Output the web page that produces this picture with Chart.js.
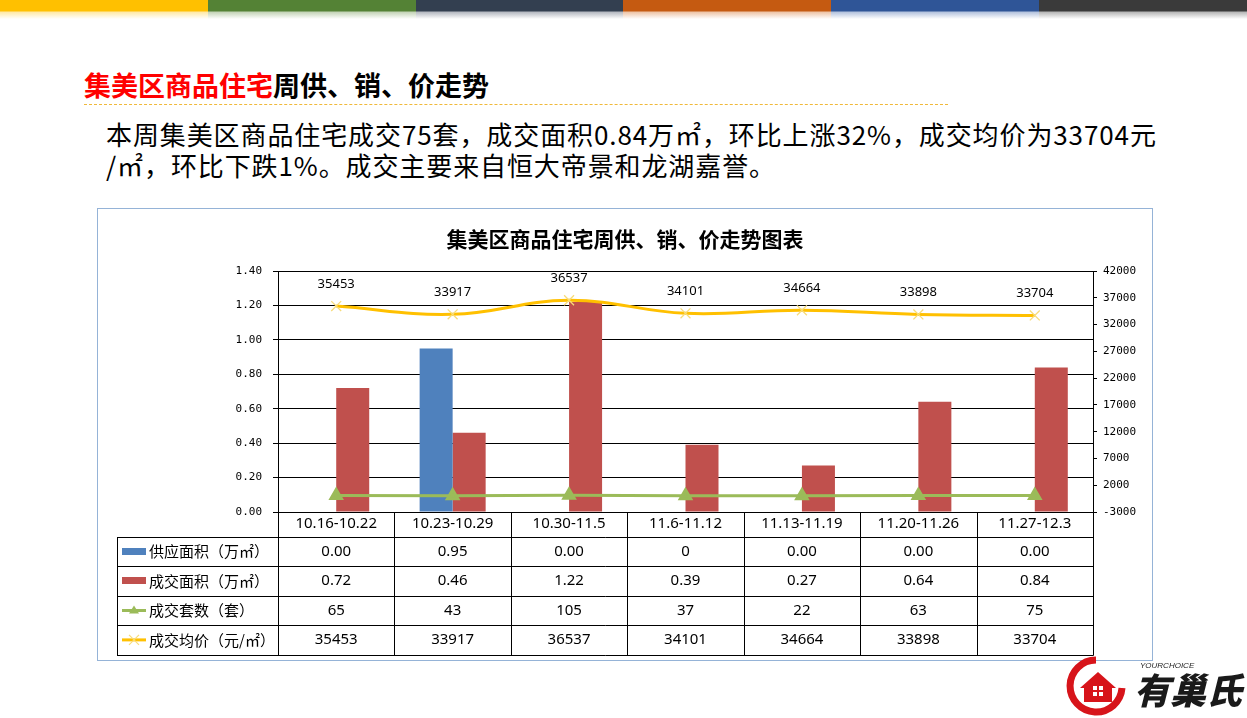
<!DOCTYPE html>
<html>
<head>
<meta charset="utf-8">
<script src="https://cdn.jsdelivr.net/npm/chart.js@4.4.1/dist/chart.umd.min.js"></script>
<style>
html,body{margin:0;padding:0;background:#fff;width:1247px;height:718px;overflow:hidden;font-family:"Noto Sans CJK SC","Noto Sans",sans-serif;}
#topbar{position:absolute;left:0;top:0;width:1247px;height:19px;display:flex;}
#topbar div{flex:1;height:19px;}
#heading{position:absolute;left:84px;top:66px;font-size:27px;font-weight:700;line-height:38px;white-space:nowrap;color:#000;}
#heading .r{color:#ff0000;}
#dash{position:absolute;left:84px;top:104px;width:864px;height:0;border-top:1px dashed #F0B93A;}
#para{position:absolute;left:106px;top:118px;font-size:26px;letter-spacing:0.9px;line-height:31px;color:#000;white-space:nowrap;}
#box{position:absolute;left:97px;top:208px;width:1054px;height:451px;border:1px solid #95B3D7;}
#ctitle{position:absolute;left:97px;top:224px;width:1056px;text-align:center;font-size:21px;font-weight:700;line-height:28px;color:#000;}
#chart{position:absolute;left:97px;top:208px;}
#logo{position:absolute;left:1060px;top:652px;}
</style>
</head>
<body>
<div id="topbar">
  <div style="background:linear-gradient(#FFC000 0,#FFC000 11px,#FFE9A6 12px,#ffffff 19px)"></div>
  <div style="background:linear-gradient(#548235 0,#548235 11px,#C3D3B6 12px,#ffffff 19px)"></div>
  <div style="background:linear-gradient(#333F50 0,#333F50 11px,#B4B8C0 12px,#ffffff 19px)"></div>
  <div style="background:linear-gradient(#C55A11 0,#C55A11 11px,#EDC3A6 12px,#ffffff 19px)"></div>
  <div style="background:linear-gradient(#2F5597 0,#2F5597 11px,#B3C2DD 12px,#ffffff 19px)"></div>
  <div style="background:linear-gradient(#3A3A3A 0,#3A3A3A 11px,#B5B5B5 12px,#ffffff 19px)"></div>
</div>
<div id="heading"><span class="r">集美区商品住宅</span>周供、销、价走势</div>
<div id="dash"></div>
<div id="para">本周集美区商品住宅成交75套，成交面积0.84万㎡，环比上涨32%，成交均价为33704元<br>/㎡，环比下跌1%。成交主要来自恒大帝景和龙湖嘉誉。</div>
<div id="box"></div>
<canvas id="chart" width="1056" height="453"></canvas>
<div id="ctitle">集美区商品住宅周供、销、价走势图表</div>
<svg id="logo" width="187" height="64" viewBox="0 0 187 64">
  <path d="M36 8 A26 26 0 1 0 62 36" fill="none" stroke="#D7141A" stroke-width="7"/>
  <path d="M20 36 L38 20 L56 36 L52 36 L52 50 L24 50 L24 36 Z" fill="#D7141A"/>
  <rect x="33" y="34" width="4" height="4" fill="#fff"/><rect x="39" y="34" width="4" height="4" fill="#fff"/>
  <rect x="33" y="40" width="4" height="4" fill="#fff"/><rect x="39" y="40" width="4" height="4" fill="#fff"/>
  <text x="80" y="16" font-family="Liberation Sans" font-style="italic" font-size="8" fill="#222">YOURCHOICE</text>
  <text x="74" y="52" font-family="Noto Sans CJK SC" font-weight="900" font-style="italic" font-size="36" fill="#1a1a1a">有巢氏</text>
</svg>
<script>
const categories = ["10.16-10.22","10.23-10.29","10.30-11.5","11.6-11.12","11.13-11.19","11.20-11.26","11.27-12.3"];
const supplyArea = [0.00, 0.95, 0.00, 0, 0.00, 0.00, 0.00];
const supplyText = ["0.00","0.95","0.00","0","0.00","0.00","0.00"];
const dealArea   = [0.72, 0.46, 1.22, 0.39, 0.27, 0.64, 0.84];
const dealUnits  = [65, 43, 105, 37, 22, 63, 75];
const avgPrice   = [35453, 33917, 36537, 34101, 34664, 33898, 33704];
const seriesNames = ["供应面积（万㎡）","成交面积（万㎡）","成交套数（套）","成交均价（元/㎡）"];
const leftAxis  = {min: 0, max: 1.4, step: 0.2};
const rightAxis = {min: -3000, max: 42000, step: 5000};

const BLUE = '#4F81BD', RED = '#C0504D', GREEN = '#9BBB59', YELLOW = '#FFC000';
const NUMFONT = '"Noto Sans","Noto Sans CJK SC",sans-serif';

const labelPlugin = {
  id: 'priceLabels',
  afterDatasetsDraw(chart) {
    const ctx = chart.ctx;
    const meta = chart.getDatasetMeta(3);
    ctx.save();
    ctx.font = '13px ' + NUMFONT;
    ctx.fillStyle = '#000';
    ctx.textAlign = 'center';
    ctx.textBaseline = 'middle';
    meta.data.forEach((pt, i) => {
      ctx.fillText(String(avgPrice[i]), pt.x, pt.y - 22);
    });
    ctx.restore();
  }
};

const tablePlugin = {
  id: 'dataTable',
  afterDraw(chart) {
    const ctx = chart.ctx, a = chart.chartArea, xs = chart.scales.x;
    const step = xs.getPixelForValue(1) - xs.getPixelForValue(0);
    const top = Math.round(a.bottom);
    const hdrH = 25, rowH = 29.4;
    const labelLeft = Math.round(a.left) - 161;
    const bottom = Math.round(top + hdrH + rowH * 4);
    const rows = [
      supplyText,
      dealArea.map(v => v.toFixed(2)),
      dealUnits.map(String),
      avgPrice.map(String)
    ];
    ctx.save();
    ctx.strokeStyle = '#000';
    ctx.lineWidth = 1;
    ctx.beginPath();
    for (let r = 0; r <= 4; r++) {
      const y = Math.round(top + hdrH + r * rowH) + 0.5;
      ctx.moveTo(labelLeft, y); ctx.lineTo(Math.round(a.right) + 0.5, y);
    }
    for (let k = 0; k <= categories.length; k++) {
      const x = Math.round(xs.getPixelForValue(0) - step / 2 + k * step) + 0.5;
      ctx.moveTo(x, top); ctx.lineTo(x, bottom + 0.5);
    }
    ctx.moveTo(labelLeft + 0.5, Math.round(top + hdrH) + 0.5);
    ctx.lineTo(labelLeft + 0.5, bottom + 0.5);
    ctx.stroke();

    ctx.textBaseline = 'middle';
    for (let r = 0; r < 4; r++) {
      const cy = top + hdrH + r * rowH + rowH / 2;
      // values
      ctx.font = '15px ' + NUMFONT;
      ctx.fillStyle = '#000';
      ctx.textAlign = 'center';
      rows[r].forEach((t, i) => ctx.fillText(t, xs.getPixelForValue(i), cy));
      // legend key
      const kx = labelLeft + 5, kw = 24;
      if (r < 2) {
        ctx.fillStyle = r === 0 ? BLUE : RED;
        ctx.fillRect(kx, Math.round(cy) - 4, kw, 7);
      } else if (r === 2) {
        ctx.strokeStyle = GREEN; ctx.lineWidth = 3;
        ctx.beginPath(); ctx.moveTo(kx, cy); ctx.lineTo(kx + kw, cy); ctx.stroke();
        ctx.fillStyle = GREEN;
        ctx.beginPath(); ctx.moveTo(kx + kw/2, cy - 5); ctx.lineTo(kx + kw/2 + 5, cy + 3); ctx.lineTo(kx + kw/2 - 5, cy + 3); ctx.closePath(); ctx.fill();
      } else {
        ctx.strokeStyle = YELLOW; ctx.lineWidth = 3;
        ctx.beginPath(); ctx.moveTo(kx, cy); ctx.lineTo(kx + kw, cy); ctx.stroke();
        ctx.strokeStyle = '#F7DC7A'; ctx.lineWidth = 1.2;
        ctx.beginPath();
        ctx.moveTo(kx + kw/2 - 5, cy - 5); ctx.lineTo(kx + kw/2 + 5, cy + 5);
        ctx.moveTo(kx + kw/2 + 5, cy - 5); ctx.lineTo(kx + kw/2 - 5, cy + 5);
        ctx.stroke();
      }
      ctx.fillStyle = '#000';
      ctx.textAlign = 'left';
      ctx.font = '15px "Noto Sans CJK SC",sans-serif';
      ctx.fillText(seriesNames[r], kx + kw + 3, cy);
    }
    ctx.restore();
  }
};

new Chart(document.getElementById('chart'), {
  data: {
    labels: categories,
    datasets: [
      {type: 'bar', label: seriesNames[0], data: supplyArea, backgroundColor: BLUE, yAxisID: 'y', order: 2,
       categoryPercentage: 0.567, barPercentage: 1.0},
      {type: 'bar', label: seriesNames[1], data: dealArea, backgroundColor: RED, yAxisID: 'y', order: 2,
       categoryPercentage: 0.567, barPercentage: 1.0},
      {type: 'line', label: seriesNames[2], data: dealUnits, yAxisID: 'y1', order: 1,
       borderColor: GREEN, borderWidth: 3, backgroundColor: GREEN, pointStyle: 'triangle',
       pointRadius: 6, pointBackgroundColor: GREEN, pointBorderColor: GREEN, tension: 0, fill: false},
      {type: 'line', label: seriesNames[3], data: avgPrice, yAxisID: 'y1', order: 0,
       borderColor: YELLOW, borderWidth: 3, pointStyle: 'crossRot', pointRadius: 7,
       pointBorderColor: '#F7DC7A', pointBorderWidth: 1.3, tension: 0.4, fill: false}
    ]
  },
  options: {
    responsive: false,
    animation: false,
    layout: {padding: {top: 63, left: 0, right: 0, bottom: 0}},
    plugins: {legend: {display: false}, title: {display: false}, tooltip: {enabled: false}},
    scales: {
      x: {
        offset: true,
        grid: {display: false, drawTicks: false},
        border: {display: true, color: '#000', width: 1},
        ticks: {color: '#000', font: {size: 15, family: NUMFONT}, padding: 3, maxRotation: 0, autoSkip: false},
        afterFit(s) { s.height = 149; }
      },
      y: {
        position: 'left',
        min: leftAxis.min, max: leftAxis.max,
        grid: {color: '#000', lineWidth: 1, tickLength: 5, tickColor: '#000'},
        border: {display: true, color: '#000', width: 1},
        ticks: {stepSize: leftAxis.step, color: '#000', padding: 11,
                font: {size: 11, family: '"DejaVu Sans Mono",monospace'},
                callback: v => Number(v).toFixed(2)},
        afterFit(s) { s.width = 181; }
      },
      y1: {
        position: 'right',
        min: rightAxis.min, max: rightAxis.max,
        grid: {drawOnChartArea: false, tickLength: 4, tickColor: '#000'},
        border: {display: true, color: '#000', width: 1},
        ticks: {stepSize: rightAxis.step, color: '#000', padding: 6,
                font: {size: 11, family: '"DejaVu Sans Mono",monospace'},
                callback: v => String(v)},
        afterFit(s) { s.width = 60; }
      }
    }
  },
  plugins: [labelPlugin, tablePlugin]
});
</script>
</body>
</html>
